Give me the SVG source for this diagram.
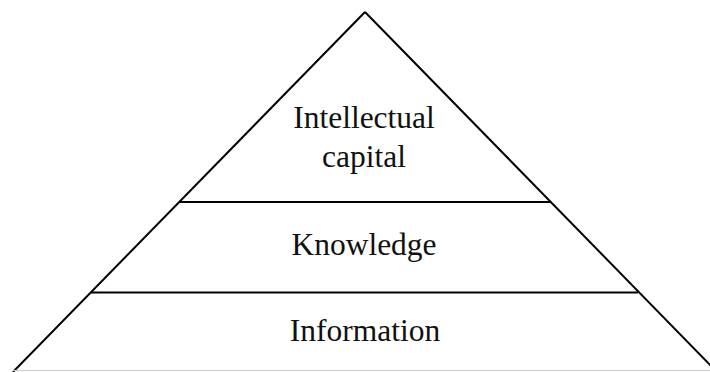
<svg xmlns="http://www.w3.org/2000/svg" width="710" height="372" viewBox="0 0 710 372">
<style>
.edge{stroke:#000;stroke-width:2;fill:none}
.lbl{font-family:"Liberation Serif","Times New Roman",serif;font-size:31.5px;fill:#111;text-anchor:middle}
</style>
<rect width="710" height="372" fill="#fff"/>
<g id="connectors">
<line class="edge" x1="365" y1="12" x2="13" y2="372"/>
<line class="edge" x1="365" y1="12" x2="717" y2="372"/>
<line class="edge" x1="179" y1="202" x2="550" y2="202"/>
<line class="edge" x1="91" y1="292.5" x2="638" y2="292.5"/>
<line x1="13" y1="370.5" x2="710" y2="370.5" stroke="#ccc" stroke-width="1"/>
</g>
<g id="intellectual-capital">
<text class="lbl" x="364" y="128">Intellectual</text>
<text class="lbl" x="364" y="167">capital</text>
</g>
<g id="knowledge">
<text class="lbl" x="364" y="255">Knowledge</text>
</g>
<g id="information">
<text class="lbl" x="365" y="341">Information</text>
</g>
</svg>
